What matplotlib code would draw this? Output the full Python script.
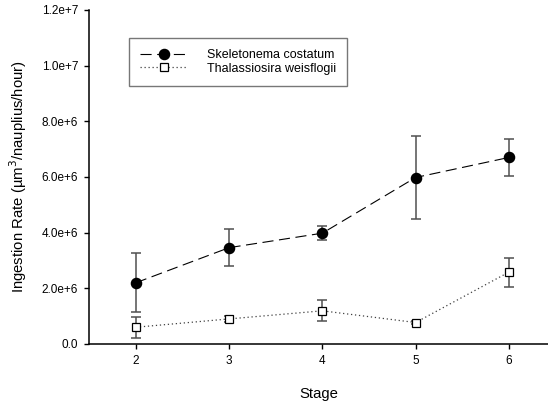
"""
Ingestion rate by naupliar stage for two diatom diets
"""

import matplotlib
matplotlib.use('Agg')
import matplotlib.pyplot as plt

plt.rcParams['font.family'] = ['Liberation Sans', 'DejaVu Sans']

stages = [2, 3, 4, 5, 6]

skeletonema = [2.20e6, 3.46e6, 3.98e6, 5.98e6, 6.70e6]
skeletonema_err = [1.07e6, 0.66e6, 0.25e6, 1.48e6, 0.66e6]

thalassiosira = [0.60e6, 0.90e6, 1.19e6, 0.77e6, 2.58e6]
thalassiosira_err = [0.37e6, 0.10e6, 0.38e6, 0.05e6, 0.52e6]

y_ticks = [0, 2e6, 4e6, 6e6, 8e6, 1e7, 1.2e7]
y_tick_labels = ['0.0', '2.0e+6', '4.0e+6', '6.0e+6', '8.0e+6', '1.0e+7', '1.2e+7']

fig = plt.figure(figsize=(5.48, 4.08), dpi=100)
ax = fig.add_axes([0.163, 0.157, 0.837, 0.8186])

# error bars first, in grey, then the lines and markers on top
ax.errorbar(stages, skeletonema, yerr=skeletonema_err, fmt='none',
            ecolor='#505050', elinewidth=1.1, capsize=3.3, capthick=1.1, zorder=2)
ax.errorbar(stages, thalassiosira, yerr=thalassiosira_err, fmt='none',
            ecolor='#505050', elinewidth=1.1, capsize=3.3, capthick=1.1, zorder=2)

ax.plot(stages, skeletonema, color='black', linestyle=(0, (10, 5)), linewidth=0.8,
        marker='o', markersize=7.3, markerfacecolor='black', markeredgecolor='black',
        label='Skeletonema costatum', zorder=3)
ax.plot(stages, thalassiosira, color='#404040', linestyle=(0, (1, 2.2)), linewidth=0.9,
        marker='s', markersize=6.3, markerfacecolor='white', markeredgecolor='black',
        markeredgewidth=0.9, label='Thalassiosira weisflogii', zorder=3)

ax.set_xlim(1.5, 6.42)
ax.set_ylim(0, 1.2e7)
ax.set_xticks(stages)
ax.set_yticks(y_ticks)
ax.set_yticklabels(y_tick_labels)
ax.tick_params(labelsize=8.5, direction='out', length=3.6, width=1, pad=4.5)

ax.spines['top'].set_visible(False)
ax.spines['right'].set_visible(False)
ax.spines['left'].set_linewidth(1.1)
ax.spines['bottom'].set_linewidth(1.1)

ax.set_xlabel('Stage', fontsize=10.7, labelpad=14)
ax.set_ylabel('Ingestion Rate (\u00b5m$^3$/nauplius/hour)', fontsize=10.7, labelpad=9)

leg = ax.legend(loc='upper left', bbox_to_anchor=(0.087, 0.917), fontsize=9,
                frameon=True, fancybox=False, edgecolor='#555555',
                handlelength=3.8, handletextpad=1.5, borderpad=0.9,
                labelspacing=0.15, borderaxespad=0)
leg.get_frame().set_linewidth(1.0)

plt.savefig('out.png', dpi=100)
plt.close()
